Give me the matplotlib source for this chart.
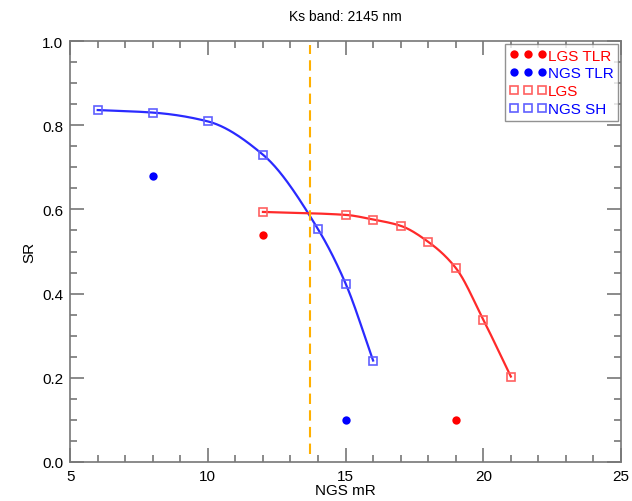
import numpy as np
import matplotlib.pyplot as plt
from matplotlib.ticker import MultipleLocator

plt.rcParams['font.family'] = ['Liberation Sans', 'DejaVu Sans']

# data
ngs_sh_x = [6, 8, 10, 12, 14, 15, 16]
ngs_sh_sr = [0.836, 0.830, 0.809, 0.730, 0.553, 0.424, 0.241]
lgs_x = [12, 15, 16, 17, 18, 19, 20, 21]
lgs_sr = [0.594, 0.587, 0.576, 0.561, 0.523, 0.461, 0.338, 0.203]
lgs_tlr_x = [12, 19]
lgs_tlr_sr = [0.540, 0.100]
ngs_tlr_x = [8, 15]
ngs_tlr_sr = [0.679, 0.100]
cross_mr = 13.7


def smooth(x, y, n=200):
    # monotone cubic (Fritsch-Carlson) so the drawn line has no overshoot
    x = np.asarray(x, float)
    y = np.asarray(y, float)
    h = np.diff(x)
    d = np.diff(y) / h
    m = np.zeros_like(y)
    m[0], m[-1] = d[0], d[-1]
    for i in range(1, len(x) - 1):
        if d[i - 1] * d[i] > 0:
            w1 = 2 * h[i] + h[i - 1]
            w2 = h[i] + 2 * h[i - 1]
            m[i] = (w1 + w2) / (w1 / d[i - 1] + w2 / d[i])
    xs = np.linspace(x[0], x[-1], n)
    i = np.clip(np.searchsorted(x, xs) - 1, 0, len(x) - 2)
    t = (xs - x[i]) / h[i]
    h00 = 2 * t**3 - 3 * t**2 + 1
    h10 = t**3 - 2 * t**2 + t
    h01 = -2 * t**3 + 3 * t**2
    h11 = t**3 - t**2
    ys = h00 * y[i] + h10 * h[i] * m[i] + h01 * y[i + 1] + h11 * h[i] * m[i + 1]
    return xs, ys


blue = '#2a2aff'
red = '#ff2a2a'

fig = plt.figure(figsize=(6.32, 5.02), dpi=100)
ax = fig.add_axes([0.111, 0.0777, 0.8716, 0.8386])

xs, ys = smooth(ngs_sh_x, ngs_sh_sr)
ax.plot(xs, ys, color=blue, lw=1.6)
xs, ys = smooth(lgs_x, lgs_sr)
ax.plot(xs, ys, color=red, lw=1.6)

ax.plot(lgs_tlr_x, lgs_tlr_sr, 'o', color='red', ms=6, mec='none', label='LGS TLR')
ax.plot(ngs_tlr_x, ngs_tlr_sr, 'o', color='blue', ms=6, mec='none', label='NGS TLR')
ax.plot(lgs_x, lgs_sr, 's', mfc='none', mec='#ff6060', ms=6, mew=1.2, label='LGS')
ax.plot(ngs_sh_x, ngs_sh_sr, 's', mfc='none', mec='#6060ff', ms=6, mew=1.2, label='NGS SH')

ax.vlines(cross_mr, 0.02, 0.99, colors='#ffb000', linestyles=(0, (5, 3)), lw=1.5)

ax.set_xlim(5, 25)
ax.set_ylim(0, 1.0)
ax.xaxis.set_major_locator(MultipleLocator(5))
ax.xaxis.set_minor_locator(MultipleLocator(1))
ax.yaxis.set_major_locator(MultipleLocator(0.2))
ax.yaxis.set_minor_locator(MultipleLocator(0.05))
ax.yaxis.set_major_formatter(plt.FormatStrFormatter('%.1f'))
ax.tick_params(which='both', direction='in', top=True, right=True,
               color='#777777', labelsize=11, width=1.2)
ax.tick_params(which='major', length=10, pad=5)
ax.tick_params(which='minor', length=5)
for s in ax.spines.values():
    s.set_color('#777777')
    s.set_linewidth(1.2)

ax.set_xlabel('NGS mR', fontsize=11, labelpad=0)
ax.set_ylabel('SR', fontsize=11)
ax.set_title('Ks band: 2145 nm', fontsize=10, pad=15)

leg = ax.legend(loc='upper right', numpoints=3, handlelength=2.4, handletextpad=0.1,
                labelspacing=0.25, borderaxespad=0.2, fancybox=False,
                edgecolor='#777777', fontsize=11, borderpad=0.3)
for t, c in zip(leg.get_texts(), ['red', 'blue', 'red', 'blue']):
    t.set_color(c)

fig.savefig('out.png', dpi=100)
